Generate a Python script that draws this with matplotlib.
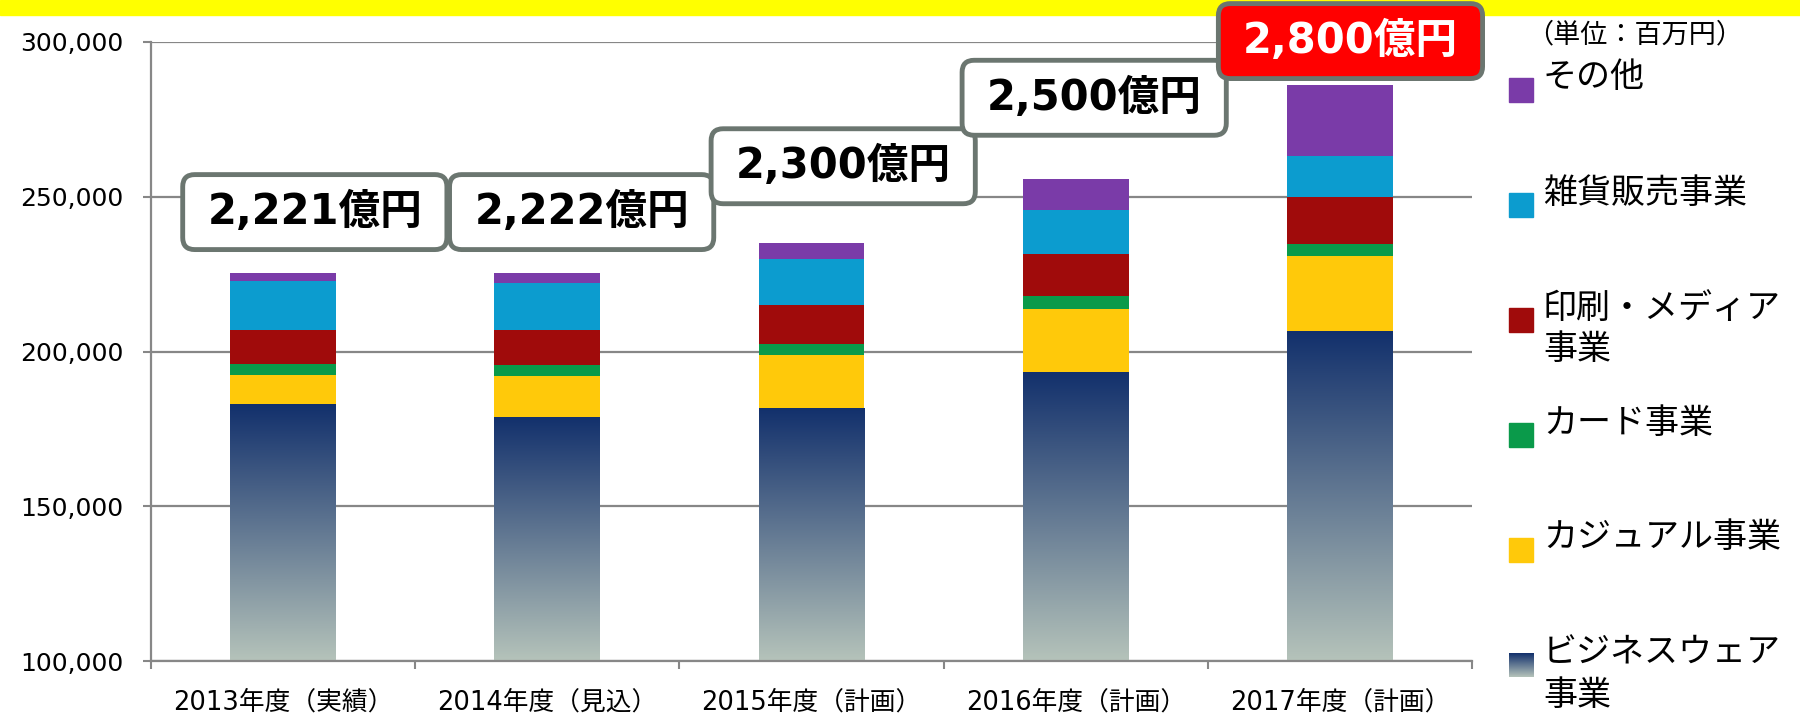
import matplotlib
matplotlib.use('Agg')
import matplotlib.pyplot as plt
import numpy as np
from matplotlib.patches import FancyBboxPatch, Rectangle
from matplotlib.transforms import IdentityTransform
from matplotlib.colors import LinearSegmentedColormap
from matplotlib.ticker import MultipleLocator, FuncFormatter

# データ（単位：百万円）
categories = ['2013年度（実績）', '2014年度（見込）', '2015年度（計画）', '2016年度（計画）', '2017年度（計画）']
business_wear = [182900, 178800, 181900, 193300, 206600]
casual = [9550, 13300, 17100, 20550, 24200]
card = [3550, 3700, 3550, 3950, 4000]
print_media = [10800, 11000, 12600, 13800, 15000]
goods = [15900, 15350, 14850, 14200, 13450]
other = [2800, 3350, 5150, 9800, 22800]
total_labels = ['2,221億円', '2,222億円', '2,300億円', '2,500億円', '2,800億円']
series_names = ['ビジネスウェア\n事業', 'カジュアル事業', 'カード事業', '印刷・メディア\n事業', '雑貨販売事業', 'その他']

# 見た目
colors = ['#1a376f', '#ffc90a', '#0a9a4a', '#a00b0b', '#0c9ccf', '#7a3ba8']
bw_cmap = LinearSegmentedColormap.from_list('bw', ['#b5c3ba', '#12306c'])
box_x_offset = [0.12, 0.13, 0.12, 0.07, 0.04]
box_bottom = [232900, 232900, 247700, 269800, 288100]
box_h = 24200
W, H = 1800, 718
JP = ['Noto Sans CJK JP', 'DejaVu Sans']
NUM = ['DejaVu Sans', 'Noto Sans CJK JP']

fig = plt.figure(figsize=(W / 100, H / 100), dpi=100)
ax = fig.add_axes([151 / W, 1 - 661.3 / H, (1472 - 151) / W, (661.3 - 41.7) / H])

x = np.arange(len(categories))
width = 0.4
y_min = 100000

# ビジネスウェアはグラデーション
bars_bw = ax.bar(x, business_wear, width, color=colors[0], zorder=2)
grad = np.linspace(0, 1, 256).reshape(-1, 1)
for b, v in zip(bars_bw, business_wear):
    im = ax.imshow(grad, cmap=bw_cmap, aspect='auto', origin='lower',
                   extent=[b.get_x(), b.get_x() + b.get_width(), y_min, v], zorder=2.5)
    im.set_clip_path(b)

bottom = np.array(business_wear, dtype=float)
for vals, col in zip([casual, card, print_media, goods, other], colors[1:]):
    ax.bar(x, vals, width, bottom=bottom, color=col, zorder=2)
    bottom += np.array(vals)

ax.set_xlim(-0.5, 4.5)
ax.set_ylim(y_min, 300000)
ax.yaxis.set_major_locator(MultipleLocator(50000))
ax.yaxis.set_major_formatter(FuncFormatter(lambda v, p: '{:,.0f}'.format(v)))
ax.grid(axis='y', color='#878787', lw=1.6, zorder=1)
ax.set_axisbelow(True)

ax.set_xticks(x)
ax.set_xticklabels(categories, fontsize=18.5, family=NUM)
ax.set_xticks(np.arange(-0.5, 5, 1), minor=True)
ax.tick_params(axis='x', which='major', length=0, pad=20)
ax.tick_params(axis='x', which='minor', length=6, width=1.5, color='#878787')
ax.tick_params(axis='y', length=6, width=1.5, color='#878787', pad=14, labelsize=18)
for sp in ['top', 'right']:
    ax.spines[sp].set_visible(False)
for sp in ['left', 'bottom']:
    ax.spines[sp].set_color('#878787')
    ax.spines[sp].set_linewidth(1.6)

# 上部の黄色い帯
fig.add_artist(Rectangle((0, 1 - 15 / H), 1, 15 / H, transform=fig.transFigure,
                         color='#ffff00', zorder=1))

# 合計の吹き出し
for i, (lab, yb) in enumerate(zip(total_labels, box_bottom)):
    cx = i + box_x_offset[i]
    x0, y0 = ax.transData.transform((cx - 0.5, yb))
    x1, y1 = ax.transData.transform((cx + 0.5, yb + box_h))
    last = i == len(total_labels) - 1
    fig.add_artist(FancyBboxPatch((x0, y0), x1 - x0, y1 - y0,
                                  boxstyle='round,pad=0,rounding_size=12',
                                  transform=IdentityTransform(),
                                  fc='#ff0000' if last else 'white', ec='#6b7670',
                                  lw=3.5, zorder=5, clip_on=False))
    fig.text((x0 + x1) / 2 / W, (y0 + y1) / 2 / H, lab, ha='center', va='center',
             fontsize=30, fontweight='bold', family=NUM,
             color='white' if last else 'black', zorder=6)

# 凡例（手書き）
fig.text(1526 / W, 1 - 35 / H, '（単位：百万円）', fontsize=19.5, family=JP, va='center')
legend_order = list(range(len(series_names)))[::-1]
for k, s in enumerate(legend_order):
    yc = 78 + 115 * k
    my = yc + 12
    if s == 0:
        lax = fig.add_axes([1508.5 / W, 1 - (my + 12) / H, 24.5 / W, 24 / H])
        lax.imshow(grad, cmap=bw_cmap, aspect='auto', origin='lower')
        lax.axis('off')
    else:
        fig.add_artist(Rectangle((1508.5 / W, 1 - (my + 12) / H), 24.5 / W, 24 / H,
                                 transform=fig.transFigure, color=colors[s]))
    for j, line in enumerate(series_names[s].split('\n')):
        fig.text(1543 / W, 1 - (yc + 42 * j) / H, line, fontsize=24.5, family=JP, va='center')

fig.savefig('out.png', dpi=100)
